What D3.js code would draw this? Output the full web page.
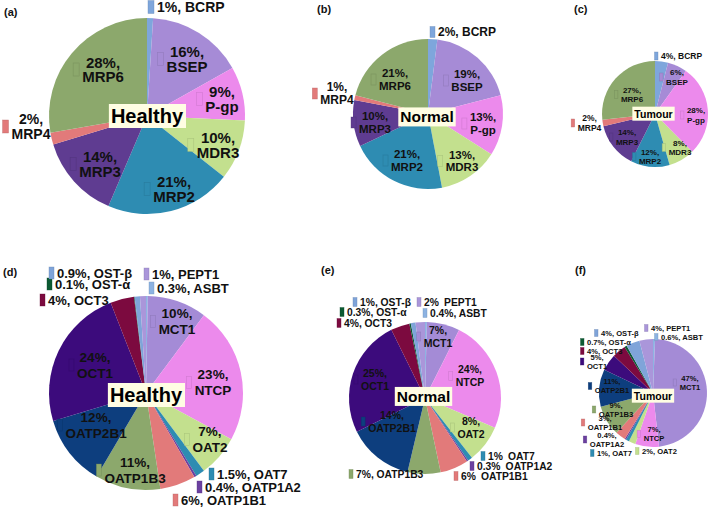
<!DOCTYPE html>
<html><head><meta charset="utf-8">
<script src="https://cdn.jsdelivr.net/npm/d3@7"></script>
<style>
html,body{margin:0;padding:0;background:#fff;}
svg{display:block;font-family:"Liberation Sans",Arial,sans-serif;font-weight:bold;}
</style></head><body>
<svg id="chart" width="709" height="509"></svg>
<script>
// ---------------- DATA ----------------
const effluxCategories = ["BCRP","BSEP","P-gp","MDR3","MRP2","MRP3","MRP4","MRP6"];
const effluxHealthy = [1,16,9,10,21,14,2,28];
const effluxNormal  = [2,19,13,13,21,10,1,21];
const effluxTumour  = [4,6,28,8,12,14,2,27];

const uptakeCategories = ["ASBT","MCT1","NTCP","OAT2","OAT7","OATP1A2","OATP1B1","OATP1B3","OATP2B1","OCT1","OCT3","OST-α","OST-β","PEPT1"];
const uptakeHealthy = [0.3,10,23,7,1.5,0.4,6,11,12,24,4,0.1,0.9,1];
const uptakeNormal  = [0.4,7,24,8,1,0.3,6,7,14,25,4,0.3,1,2];
const uptakeTumour  = [0.6,47,7,2,1,0.4,3,9,11,5,4,0.7,4,4];

const panelLetters = ["(a)","(b)","(c)","(d)","(e)","(f)"];
const centreTitles = ["Healthy","Normal","Tumour","Healthy","Normal","Tumour"];

// ---------------- STYLE / LAYOUT ----------------
const colours = {
  "BCRP":"#7ea6dc","BSEP":"#a68bd6","P-gp":"#ec8aec","MDR3":"#c3e08e","MRP2":"#2e8cb2",
  "MRP3":"#5f3c91","MRP4":"#e27a7a","MRP6":"#8ca86c",
  "ASBT":"#8db3e2","MCT1":"#a48bd6","NTCP":"#ec8aec","OAT2":"#c3e08e","OAT7":"#2e8cb2",
  "OATP1A2":"#6b40a0","OATP1B1":"#e27a7a","OATP1B3":"#8ca86c","OATP2B1":"#0d3e7e",
  "OCT1":"#3c0b7c","OCT3":"#7c0a3f","OST-α":"#0b5a32","OST-β":"#7fa4d9","PEPT1":"#aa96da"
};
// label placement relative to pie centre: [dx, dy, mode, separator]
// mode "L": one line, left anchored; "C": two centred lines
const layouts = [
 {cx:147, cy:116, r:98, font:15, lh:14.5, cfont:20, kw:6, kh:13, letter:[4,12.5], lfont:11,
  labels:[[10,-109,"L"],[40,-57,"C"],[75,-17,"C"],[71,29,"C"],[27,73,"C"],[-47,48,"C"],[-116,10.5,"C"],[-44,-46.5,"C"]], oFont:14},
 {cx:428, cy:114, r:75, font:11.5, lh:12.5, cfont:15.5, kw:5, kh:11, letter:[317,9.5], lfont:11,
  labels:[[10,-82,"L"],[39,-33.5,"C"],[55,9.5,"C"],[34,47,"C"],[-21,46.5,"C"],[-53,8.5,"C"],[-91,-20.5,"C"],[-33,-34.5,"C"]], oFont:12, ccx:-1, ccy:3},
 {cx:655, cy:114, r:53, font:8, lh:9.5, cfont:10.5, kw:3.5, kh:8, letter:[574,9.5], lfont:11,
  labels:[[6,-58,"L"],[22,-37,"C"],[41,1,"C"],[25,33.5,"C"],[-5,42.5,"C"],[-28,23,"C"],[-65.5,9,"C"],[-23,-19.5,"C"]], oFont:8.5, ccx:-1.5, ccy:0},
 {cx:146, cy:393, r:97, font:13.5, lh:16, cfont:20, kw:5, kh:12, letter:[3,272], lfont:11,
  labels:[[11,-105,"L"],[31,-71.5,"C"],[67,-10.5,"C"],[64,46.5,"C"],[71,81,"L"],[59,94,"L"],[35,107,"L"],[-11,77,"C"],[-50,32,"C"],[-51,-28,"C"],[-98,-93,"L"],[-91,-109,"L"],[-89,-120,"L"],[6,-119,"L"]], oFont:13, ccx:0, ccy:2},
 {cx:425, cy:398, r:76, font:10.5, lh:13, cfont:15.5, kw:4, kh:9, letter:[321,270], lfont:11,
  labels:[[5,-85,"L"],[13,-61.5,"C"],[45,-22,"C"],[46,29.5,"C"],[63,58,"L","\u2002"],[52,68,"L","\u2002"],[36,78,"L","\u2002"],[-69,76,"L"],[-33,23.5,"C"],[-50,-18.5,"C"],[-81,-75,"L"],[-78,-86,"L"],[-65,-96,"L"],[-1,-96,"L","\u2002"]], oFont:10.3, ccx:-1.5, ccy:-1.5},
 {cx:653, cy:393, r:54, font:7.6, lh:9, cfont:10.5, kw:3.5, kh:7, letter:[575,270], lfont:11,
  labels:[[8,-56,"L"],[37,-10.5,"C"],[1,41,"C"],[-11,58,"L"],[-56,60,"L"],[-46,46.5,"C"],[-48,29.5,"C"],[-37,16.5,"C"],[-41,-7,"C"],[-56,-31.5,"C"],[-66,-42,"L"],[-66,-51,"L"],[-52,-60,"L"],[-2,-65,"L"]], oFont:7.6, ccx:0, ccy:3}
];

const panelData = [
 [effluxCategories, effluxHealthy],[effluxCategories, effluxNormal],[effluxCategories, effluxTumour],
 [uptakeCategories, uptakeHealthy],[uptakeCategories, uptakeNormal],[uptakeCategories, uptakeTumour]
];

// ---------------- DRAW ----------------
const svg = d3.select("#chart");

panelData.forEach(([cats, vals], pi) => {
  const L = layouts[pi];
  const g = svg.append("g").attr("transform", `translate(${L.cx},${L.cy})`);
  const rows = cats.map((c,i) => ({cat:c, v:vals[i]}));
  const pie = d3.pie().sort(null).value(d => d.v).startAngle(0).endAngle(2*Math.PI);
  const arc = d3.arc().innerRadius(0).outerRadius(L.r);
  const arcs = pie(rows);

  g.selectAll("path.slice").data(arcs).join("path")
    .attr("class","slice")
    .attr("d", arc)
    .attr("fill", d => colours[d.data.cat]);

  // slice labels
  arcs.forEach((a, i) => {
    const [dx, dy, mode, sepRaw] = L.labels[i];
    const sep = sepRaw || ", ";
    const col = colours[a.data.cat];
    const pct = a.data.v + "%";
    const lg = g.append("g");
    const key = lg.append("rect")
      .attr("width", L.kw).attr("height", L.kh)
      .attr("fill", col)
      .attr("stroke", d3.color(col).darker(0.6)).attr("stroke-opacity", 0.6)
      .attr("stroke-width", 0.6);
    if (mode === "L") {
      lg.append("text")
        .attr("x", dx).attr("y", dy).attr("dy","0.35em")
        .attr("font-size", L.oFont).attr("fill","#111")
        .text(pct + sep + a.data.cat);
      key.attr("x", dx - 3 - L.kw).attr("y", dy - L.kh/2);
    } else {
      const inside = Math.hypot(dx, dy) < L.r;
      const fs = inside ? L.font : L.oFont;
      const t1 = lg.append("text").attr("x",dx).attr("y",dy - L.lh/2).attr("dy","0.35em")
        .attr("text-anchor","middle").attr("font-size",fs).attr("fill","#111").text(pct + ",");
      const t2 = lg.append("text").attr("x",dx).attr("y",dy + L.lh/2).attr("dy","0.35em")
        .attr("text-anchor","middle").attr("font-size",fs).attr("fill","#111").text(a.data.cat);
      const w = Math.max(t1.node().getComputedTextLength(), t2.node().getComputedTextLength());
      key.attr("x", dx - w/2 - 3 - L.kw).attr("y", dy - L.kh/2);
    }
  });

  // centre title
  const cg = g.append("g").attr("transform", `translate(${L.ccx||0},${L.ccy||0})`);
  const ct = cg.append("text").attr("text-anchor","middle").attr("dy","0.35em")
    .attr("font-size", L.cfont).attr("fill","#000").text(centreTitles[pi]);
  const bb = ct.node().getBBox();
  cg.insert("rect","text")
    .attr("x", bb.x - 2).attr("y", bb.y - 1)
    .attr("width", bb.width + 4).attr("height", bb.height + 2)
    .attr("fill", "#fffde3");

  // panel letter
  svg.append("text").attr("x", L.letter[0]).attr("y", L.letter[1]).attr("dy","0.35em")
    .attr("font-size", L.lfont).attr("fill","#111").text(panelLetters[pi]);
});
</script>
</body></html>
